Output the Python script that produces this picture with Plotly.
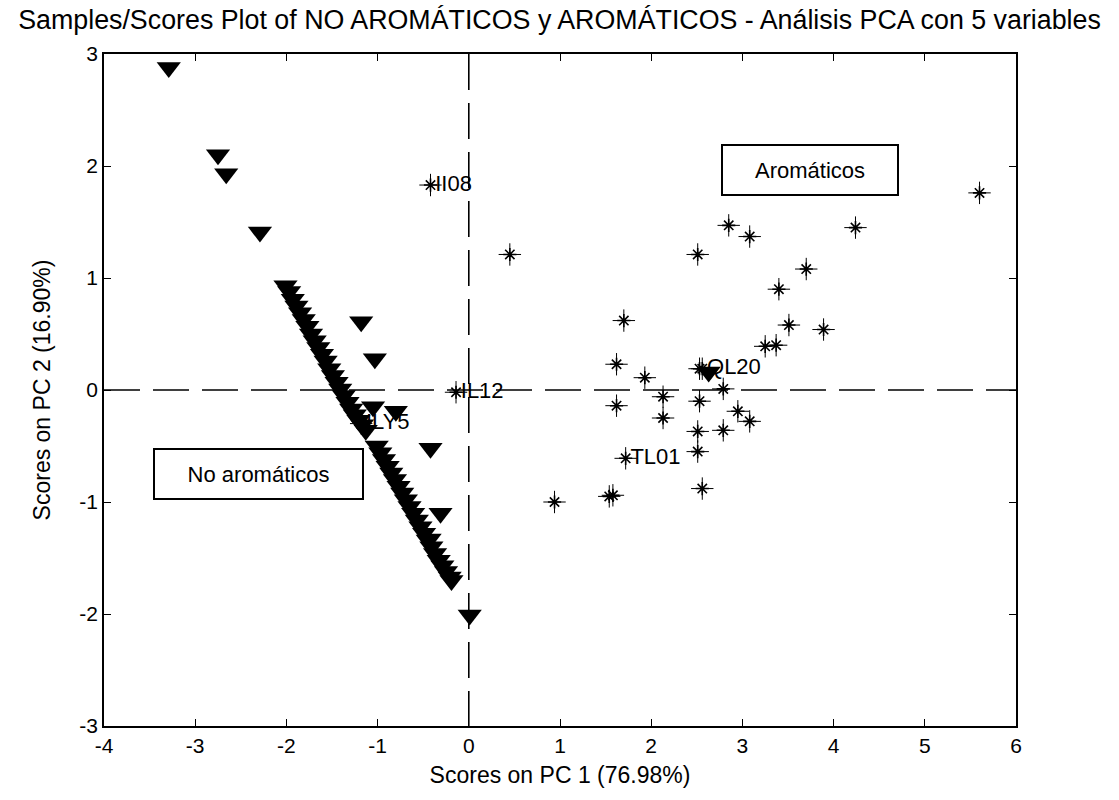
import plotly.graph_objects as go

# ---- data ----
# No aromáticos (downward triangles)
tri_x = [-3.29, -2.75, -2.66, -2.29,
         -2.01, -1.97, -1.93, -1.89, -1.85, -1.81, -1.77, -1.73, -1.69, -1.65,
         -1.61, -1.57, -1.53, -1.49, -1.45, -1.41, -1.37, -1.33, -1.29, -1.25,
         -1.21, -1.17, -1.13,
         -1.05, -1.18, -1.03, -0.80,
         -1.01, -0.97, -0.93, -0.89, -0.85, -0.81, -0.77, -0.73, -0.69, -0.65,
         -0.61, -0.57, -0.53, -0.49, -0.45, -0.41, -0.37, -0.33, -0.29, -0.25,
         -0.21, -0.19,
         -0.42, -0.31, -0.43, 0.01, 2.63]
tri_y = [2.88, 2.10, 1.93, 1.41,
         0.93, 0.88, 0.81, 0.75, 0.69, 0.63, 0.57, 0.50, 0.44, 0.38,
         0.32, 0.26, 0.19, 0.13, 0.07, 0.01, -0.05, -0.11, -0.17, -0.22,
         -0.27, -0.31, -0.36,
         -0.15, 0.61, 0.28, -0.19,
         -0.50, -0.56, -0.62, -0.68, -0.74, -0.80, -0.86, -0.92, -0.98, -1.04,
         -1.10, -1.16, -1.22, -1.28, -1.34, -1.40, -1.46, -1.52, -1.57, -1.62,
         -1.67, -1.70,
         -0.52, -1.10, -1.33, -2.01, 0.16]

# Aromáticos (stars)
star_x = [0.45, 2.51, 2.85, 3.08, 4.24, 5.60, 3.70, 3.40, 3.51, 3.89, 3.25, 3.37,
          1.70, 1.62, 1.93, 2.53, 2.79, 2.13, 2.53, 1.62, 2.95, 3.08, 2.13, 2.79,
          2.51, 2.51, 2.56, 1.54, 1.58, 0.94]
star_y = [1.21, 1.21, 1.47, 1.37, 1.45, 1.76, 1.08, 0.90, 0.58, 0.54, 0.39, 0.40,
          0.62, 0.23, 0.11, 0.19, 0.01, -0.06, -0.10, -0.14, -0.19, -0.28, -0.25, -0.36,
          -0.37, -0.55, -0.88, -0.95, -0.94, -1.00]

# Labelled samples (star marker + name)
lab_names = ["II08", "IL12", "ILY5", "QL20", "TL01"]
lab_x = [-0.42, -0.14, -1.18, 2.56, 1.72]
lab_y = [1.83, -0.02, -0.30, 0.19, -0.61]

x_ticks = [-4, -3, -2, -1, 0, 1, 2, 3, 4, 5, 6]
y_ticks = [-3, -2, -1, 0, 1, 2, 3]

title = "Samples/Scores Plot of NO AROMÁTICOS y AROMÁTICOS - Análisis PCA con 5 variables"
x_title = "Scores on PC 1 (76.98%)"
y_title = "Scores on PC 2 (16.90%)"

group_labels = ["Aromáticos", "No aromáticos"]
group_pos_x = [3.74, -2.31]
group_pos_y = [1.96, -0.75]

FONT = "Liberation Sans, Arial, sans-serif"

fig = go.Figure()

# reference dashed lines at 0
fig.add_trace(go.Scatter(x=[x_ticks[0], x_ticks[-1]], y=[0, 0], mode="lines",
                         line=dict(color="black", width=1.6, dash="36px,13px"),
                         hoverinfo="skip", showlegend=False))
fig.add_trace(go.Scatter(x=[0, 0], y=[y_ticks[-1], y_ticks[0]], mode="lines",
                         line=dict(color="black", width=1.6, dash="36px,13px"),
                         hoverinfo="skip", showlegend=False))

fig.add_trace(go.Scatter(x=tri_x, y=tri_y, mode="markers",
                         marker=dict(symbol="triangle-down", size=21, color="black",
                                     line=dict(width=0)),
                         showlegend=False))

all_sx = star_x + lab_x
all_sy = star_y + lab_y
fig.add_trace(go.Scatter(x=all_sx, y=all_sy, mode="markers",
                         marker=dict(symbol="asterisk-open", size=11, color="black",
                                     line=dict(color="black", width=1.6)),
                         showlegend=False))
fig.add_trace(go.Scatter(x=all_sx, y=all_sy, mode="markers",
                         marker=dict(symbol="cross-thin-open", size=16, color="black",
                                     line=dict(color="black", width=1)),
                         showlegend=False))
fig.add_trace(go.Scatter(x=lab_x, y=lab_y, mode="markers+text", text=lab_names,
                         textposition="middle right",
                         textfont=dict(family=FONT, size=22, color="black"),
                         marker=dict(size=6, color="rgba(0,0,0,0)"),
                         hoverinfo="skip", showlegend=False))

for t, gx, gy, w in zip(group_labels, group_pos_x, group_pos_y, [166, 199]):
    fig.add_annotation(x=gx, y=gy, xref="x", yref="y", text=t, showarrow=False,
                       font=dict(family=FONT, size=22, color="black"),
                       bordercolor="black", borderwidth=2, borderpad=4,
                       bgcolor="white", width=w, height=40)

fig.update_layout(
    width=1119, height=800,
    margin=dict(l=104, r=103, t=54, b=74),
    paper_bgcolor="white", plot_bgcolor="white",
    title=dict(text=title, x=0.5, xanchor="center", y=0.976, yanchor="middle",
               font=dict(family=FONT, size=26.8, color="black")),
    font=dict(family=FONT, color="black"),
)
fig.update_xaxes(range=[x_ticks[0], x_ticks[-1]], tickvals=x_ticks,
                 ticktext=[str(v) for v in x_ticks],
                 ticks="inside", ticklen=7, tickwidth=1.2, tickcolor="black",
                 showline=True, linecolor="black", linewidth=1.5, mirror="ticks",
                 showgrid=False, zeroline=False,
                 tickfont=dict(family=FONT, size=21, color="black"),
                 title=dict(text=x_title, font=dict(family=FONT, size=23, color="black"),
                            standoff=11))
fig.update_yaxes(range=[y_ticks[0], y_ticks[-1]], tickvals=y_ticks,
                 ticktext=[str(v) for v in y_ticks],
                 ticks="inside", ticklen=7, tickwidth=1.2, tickcolor="black",
                 showline=True, linecolor="black", linewidth=1.5, mirror="ticks",
                 showgrid=False, zeroline=False,
                 tickfont=dict(family=FONT, size=21, color="black"),
                 title=dict(text=y_title, font=dict(family=FONT, size=23, color="black"),
                            standoff=22))

fig.write_html("out.html")
